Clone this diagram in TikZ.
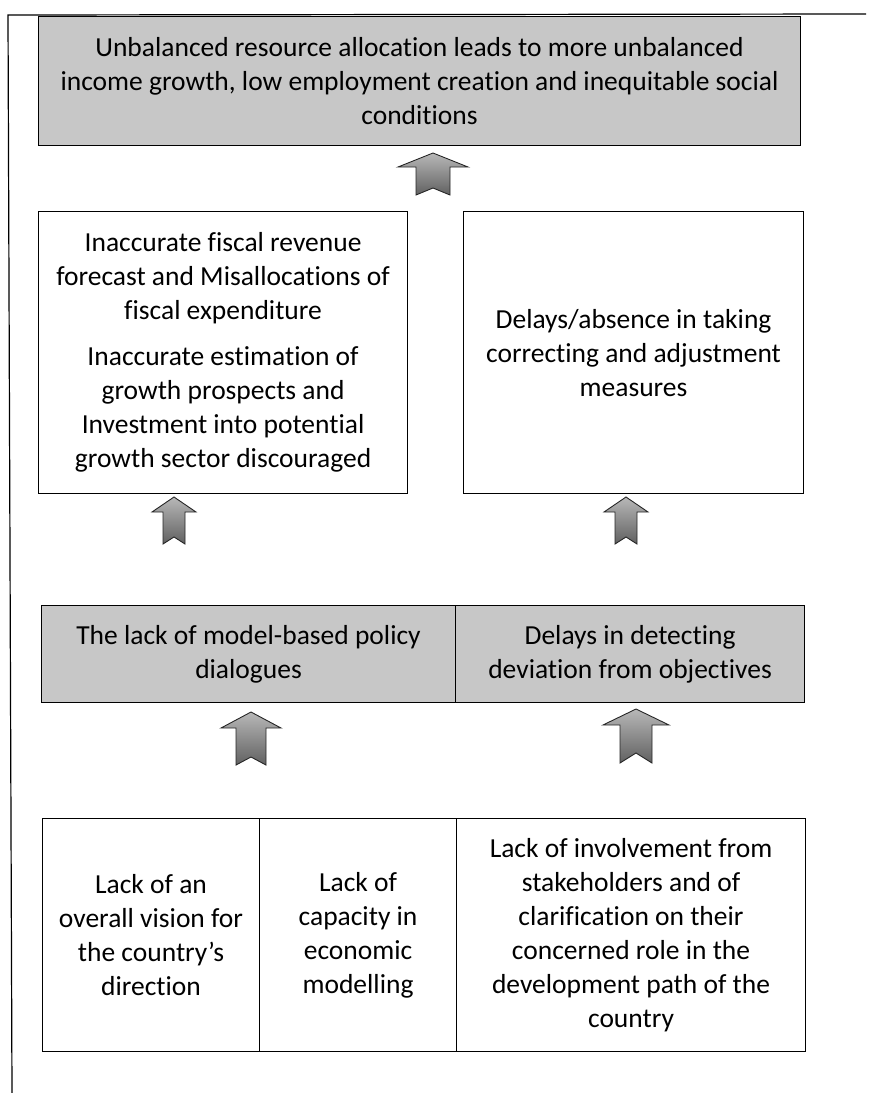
\documentclass[tikz,border=0pt]{standalone}
\usepackage{fontspec}
\setmainfont{Carlito}[Ligatures=NoCommon]
\begin{document}
\begin{tikzpicture}[x=1pt,y=-1pt,
  every node/.style={font=\fontsize{27.5}{34}\selectfont},
  cell/.style={draw=black, line width=1.1pt, inner sep=0pt, align=center, anchor=north west},
  greycell/.style={cell, fill=black!22},
  whitecell/.style={cell, fill=white},
  uparr/.style={draw=black!85, line width=0.9pt, top color=black!28, bottom color=black!62, line join=miter},
  pics/uparrow/.style n args={5}{code={
    \path[uparr] (0,0) -- (#1,#3) -- (#2,#3) -- (#2,#5) -- (0,#4) -- (-#2,#5) -- (-#2,#3) -- (-#1,#3) -- cycle;}}
]
\useasboundingbox (0,0) rectangle (874,1093);
% frame
\draw[line width=1.2pt] (866,14) -- (8,15) -- (12,1093);
% top box
\node[greycell, minimum width=762pt, minimum height=129pt] (top) at (38,16)
  {Unbalanced resource allocation leads to more unbalanced\\income growth, low employment creation and inequitable social\\conditions};
% middle boxes
\node[whitecell, minimum width=369pt, minimum height=282pt] (midl) at (38,211)
  {Inaccurate fiscal revenue\\forecast and Misallocations of\\fiscal expenditure\\[12pt]Inaccurate estimation of\\growth prospects and\\Investment into potential\\growth sector discouraged};
\node[whitecell, minimum width=340pt, minimum height=282pt] (midr) at (463,211)
  {Delays/absence in taking\\correcting and adjustment\\measures};
% grey row
\node[greycell, minimum width=414pt, minimum height=97pt] (gl) at (41,605)
  {The lack of model-based policy\\dialogues};
\node[greycell, minimum width=349pt, minimum height=97pt] (gr) at (455,605)
  {Delays in detecting\\deviation from objectives};
% bottom row
\node[whitecell, minimum width=217pt, minimum height=233pt] (b1) at (42,818)
  {Lack of an\\overall vision for\\the country’s\\direction};
\node[whitecell, minimum width=197pt, minimum height=233pt] (b2) at (259,818)
  {Lack of\\capacity in\\economic\\modelling};
\node[whitecell, minimum width=349pt, minimum height=233pt] (b3) at (456,818)
  {Lack of involvement from\\stakeholders and of\\clarification on their\\concerned role in the\\development path of the\\country};
% block arrows
\coordinate (a1) at (433,153);
\coordinate (a2l) at (174,497);
\coordinate (a2r) at (626,497);
\coordinate (a3l) at (251,712);
\coordinate (a3r) at (636,709);
\pic at (a1) {uparrow={35}{17}{14}{35}{42}};
\pic at (a2l) {uparrow={22}{11}{15}{40}{47}};
\pic at (a2r) {uparrow={22}{11}{15}{40}{47}};
\pic at (a3l) {uparrow={30}{15}{16}{45}{53}};
\pic at (a3r) {uparrow={33}{16}{16}{44}{54}};
\end{tikzpicture}
\end{document}
